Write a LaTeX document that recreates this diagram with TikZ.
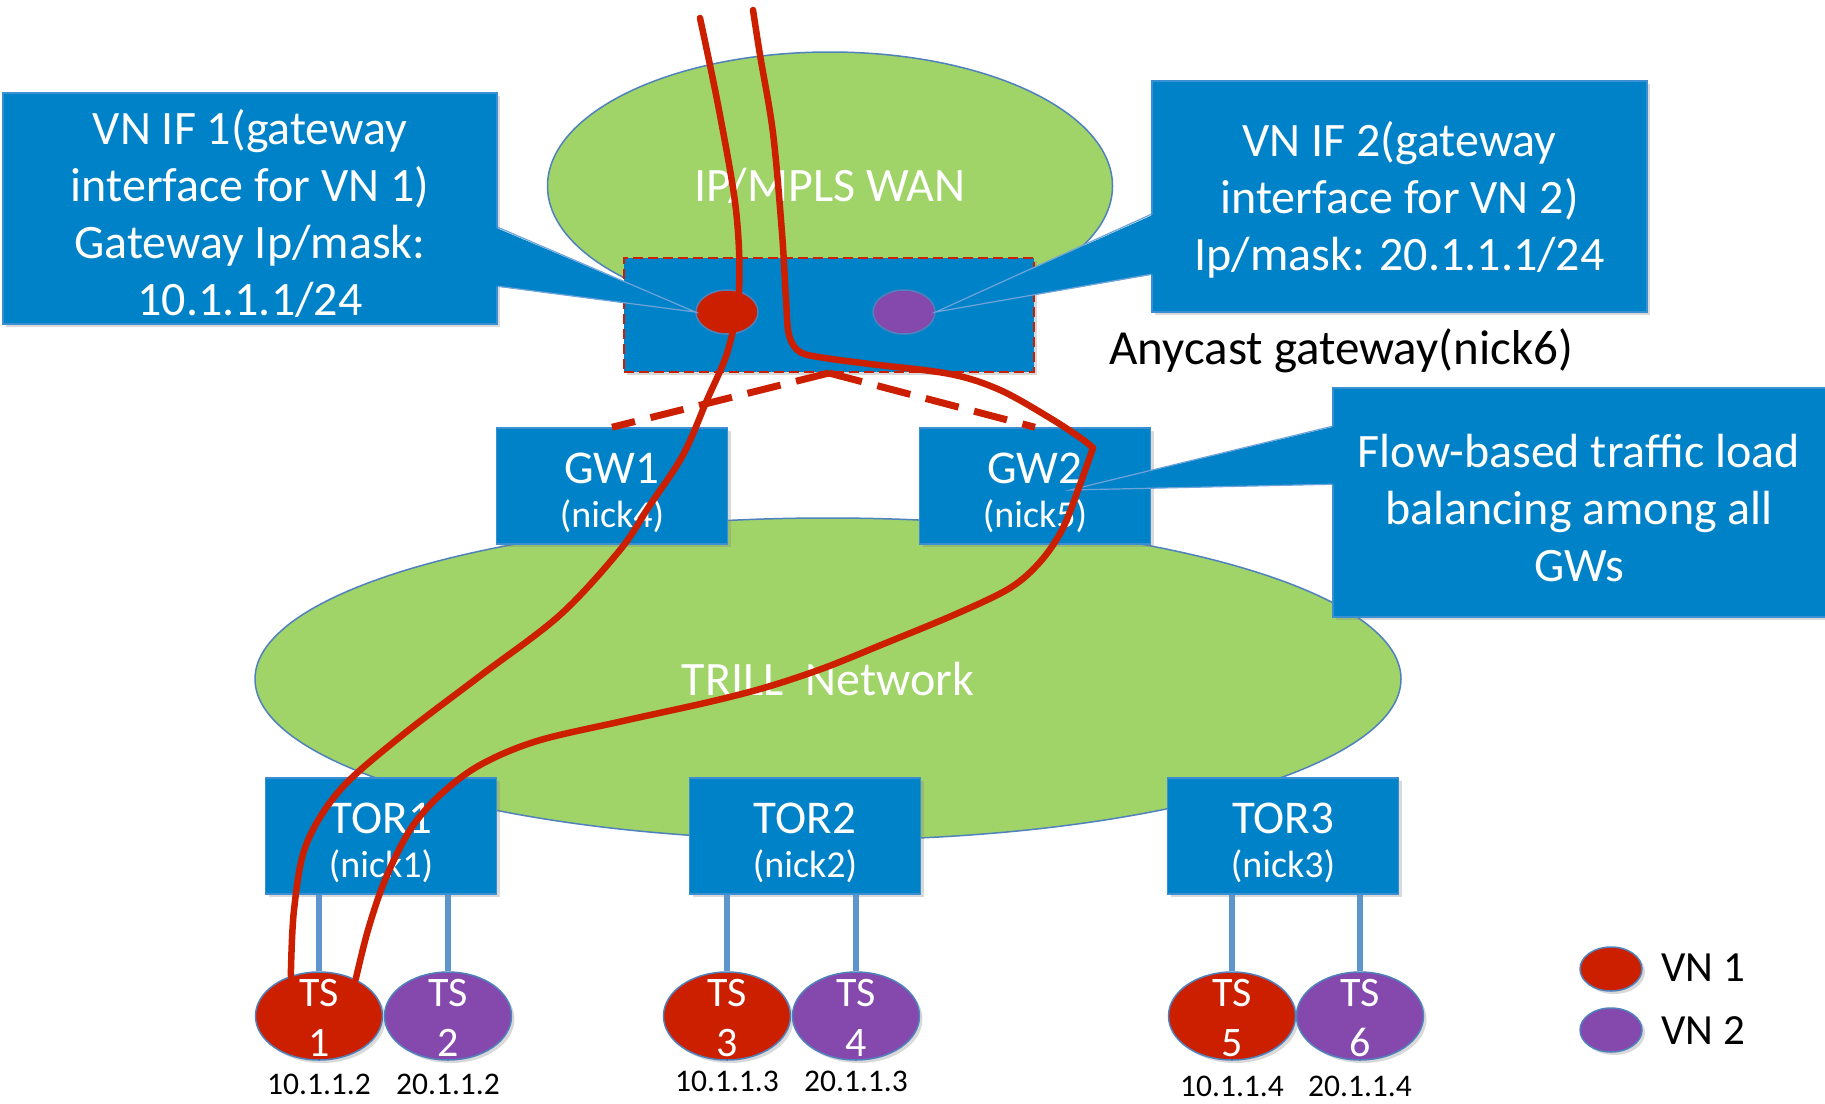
\documentclass[tikz,border=0pt]{standalone}
\usepackage{fontspec}
\setmainfont{Carlito}
\usetikzlibrary{shapes.geometric,shadows,calc}

\definecolor{boxblue}{HTML}{0082C8}
\definecolor{boxedge}{HTML}{3A8FD2}
\definecolor{cloudgreen}{HTML}{A0D468}
\definecolor{rimblue}{HTML}{4F81BD}
\definecolor{vnred}{HTML}{CC1F00}
\definecolor{vnpurple}{HTML}{8549AE}
\definecolor{linkblue}{HTML}{5E95CD}
\definecolor{pathred}{HTML}{CC1F00}
\definecolor{pointeredge}{HTML}{6FA3DA}

\begin{document}
\begin{tikzpicture}[x=1pt,y=-1pt,
  softshadow/.style={drop shadow={shadow xshift=3pt,shadow yshift=-3pt,opacity=0.3}},
  cloud/.style={ellipse,draw=rimblue,line width=1.5,fill=cloudgreen,inner sep=0pt,
    text=white,font=\fontsize{48}{56}\selectfont},
  bluebox/.style={rectangle,fill=boxblue,draw=boxedge,line width=1.5,inner sep=0pt,
    softshadow},
  callouttext/.style={text=white,align=center,inner sep=0pt,font=\fontsize{48}{57}\selectfont},
  switchbox/.style={bluebox,minimum width=231,minimum height=116},
  switchname/.style={text=white,inner sep=0pt,font=\fontsize{47}{54}\selectfont},
  nickname/.style={text=white,inner sep=0pt,font=\fontsize{38}{44}\selectfont},
  tsnode/.style={ellipse,draw=rimblue,line width=1.5,inner sep=0pt,
    minimum width=127,minimum height=88,softshadow},
  tstext/.style={text=white,align=center,font=\fontsize{42}{50}\selectfont},
  iplabel/.style={font=\fontsize{31.5}{36}\selectfont},
  legendtext/.style={anchor=west,font=\fontsize{43}{50}\selectfont},
  vndot/.style={ellipse,draw=rimblue,line width=1.5,inner sep=0pt,
    minimum width=62,minimum height=44},
  link/.style={draw=linkblue,line width=6},
  gwlink/.style={draw=pathred,line width=7,dash pattern=on 34pt off 16pt},
  flowpath/.style={draw=pathred,line width=6.5,line cap=round,line join=round},
  pointer/.style={fill=boxblue},
  pointerline/.style={draw=pointeredge,line width=1.2}
]
\useasboundingbox (0,0) rectangle (1825,1103);

% networks
\node[cloud,minimum width=565,minimum height=268] (wan) at (830,186) {IP/MPLS WAN};
\node[cloud,minimum width=1146,minimum height=322] (trill) at (828,679) {TRILL\ \ Network};

% anycast gateway with its two interfaces
\node[rectangle,fill=boxblue,draw=pathred,line width=2,dash pattern=on 10pt off 5pt,
  minimum width=410,minimum height=114,softshadow] (gw) at (829,315) {};
\node[vndot,fill=vnred] (dot1) at (727,312) {};
\node[vndot,fill=vnpurple] (dot2) at (904,312) {};
\node[anchor=west,font=\fontsize{49}{56}\selectfont] (anycast) at (1106,351) {Anycast gateway(nick6)};

% gateways and top-of-rack switches
\foreach \b/\x/\y/\name/\nk in {gw1/612/486/GW1/nick4, gw2/1035/486/GW2/nick5,
    tor1/381/836/TOR1/nick1, tor2/805/836/TOR2/nick2, tor3/1283/836/TOR3/nick3} {
  \node[switchbox] (\b) at (\x,\y) {};
  \node[switchname] (\b name) at ($(\b)+(0,-18)$) {\name};
  \node[nickname] (\b nick) at ($(\b)+(0,30)$) {(\nk)};
}
\draw[gwlink] (gw.south) -- (gw1.north);
\draw[gwlink] (gw.south) -- (gw2.north);

% tenant systems
\node[tsnode,fill=vnred]    (ts1) at (319,1016) {};
\node[tsnode,fill=vnpurple] (ts2) at (448,1016) {};
\node[tsnode,fill=vnred]    (ts3) at (727,1016) {};
\node[tsnode,fill=vnpurple] (ts4) at (856,1016) {};
\node[tsnode,fill=vnred]    (ts5) at (1232,1016) {};
\node[tsnode,fill=vnpurple] (ts6) at (1360,1016) {};

\foreach \t/\s in {tor1/ts1,tor1/ts2,tor2/ts3,tor2/ts4,tor3/ts5,tor3/ts6}
  \draw[link] (\s.north |- \t.south) -- (\s.north);
\foreach \s/\n in {ts1/1,ts2/2,ts3/3,ts4/4,ts5/5,ts6/6}
  \node[tstext] (\s t) at ($(\s)+(0,2)$) {TS\\\n};

\node[iplabel] (ip1) at (319,1084) {10.1.1.2};
\node[iplabel] (ip2) at (448,1084) {20.1.1.2};
\node[iplabel] (ip3) at (727,1081) {10.1.1.3};
\node[iplabel] (ip4) at (856,1081) {20.1.1.3};
\node[iplabel] (ip5) at (1232,1086) {10.1.1.4};
\node[iplabel] (ip6) at (1360,1086) {20.1.1.4};

% callouts
\node[bluebox,minimum width=494,minimum height=231] (lc) at (250,208.5) {};
\node[callouttext] (lct) at (250,213)
  {VN IF 1(gateway\\interface for VN 1)\\Gateway Ip/mask:\\10.1.1.1/24};
\fill[pointer] ($(lc.north east)+(-3,135)$) -- (dot1.west) -- ($(lc.north east)+(-3,194)$) -- cycle;
\draw[pointerline] ($(lc.north east)+(0,135)$) -- (dot1.west) -- ($(lc.north east)+(0,194)$);

\node[bluebox,minimum width=495,minimum height=231] (rc) at (1399.5,196.5) {};
\node[callouttext] (rct) at (1399.5,200)
  {VN IF 2(gateway\\interface for VN 2)\\Ip/mask: 20.1.1.1/24};
\fill[pointer] ($(rc.north west)+(3,134)$) -- (dot2.east) -- ($(rc.north west)+(3,194)$) -- cycle;
\draw[pointerline] ($(rc.north west)+(0,134)$) -- (dot2.east) -- ($(rc.north west)+(0,194)$);

\node[bluebox,minimum width=495,minimum height=229] (fc) at (1580.5,502.5) {};
\node[callouttext] (fct) at (1579,508)
  {Flow-based traffic load\\balancing among all\\GWs};
\coordinate (gw2tip) at ($(gw2.center)+(35,4)$);
\fill[pointer] ($(fc.north west)+(3,39)$) -- (gw2tip) -- ($(fc.north west)+(3,97)$) -- cycle;
\draw[pointerline] ($(fc.north west)+(0,39)$) -- (gw2tip) -- ($(fc.north west)+(0,97)$);

% legend
\node[vndot,fill=vnred,softshadow] (key1) at (1611,969) {};
\node[vndot,fill=vnpurple,softshadow] (key2) at (1611,1030) {};
\node[legendtext] (key1t) at (1658,968) {VN 1};
\node[legendtext] (key2t) at (1658,1031) {VN 2};

% traffic flows
\coordinate (flowA) at (700,18);
\coordinate (flowB) at (753,10);
\coordinate (turnB) at (1093,448);
\draw[flowpath] plot[smooth,tension=0.55] coordinates {(flowA) (719,110) (736,210) (739,290)
  (728,350) (707,400) (683,455) (650,505) (620,550) (560,615) (480,676) (400,737)
  (340,790) (306,845) (294,910) (ts1.125)};
\draw[flowpath] plot[smooth,tension=0.55] coordinates {(flowB) (760,55) (773,133) (782,233)
  (786,300) (789,335) (800,352) (825,358) (870,364) (950,374) (1000,390) (1050,418)
  (1082,439) (turnB)};
\draw[flowpath] plot[smooth,tension=0.55] coordinates {(turnB) (1078,490) (1062,530)
  (1040,562) (1010,588) (956,614) (881,645) (824,668) (767,687) (709,702) (623,721)
  (537,741) (480,765) (440,795) (410,830) (385,880) (368,930) (ts1.45)};
\end{tikzpicture}
\end{document}
